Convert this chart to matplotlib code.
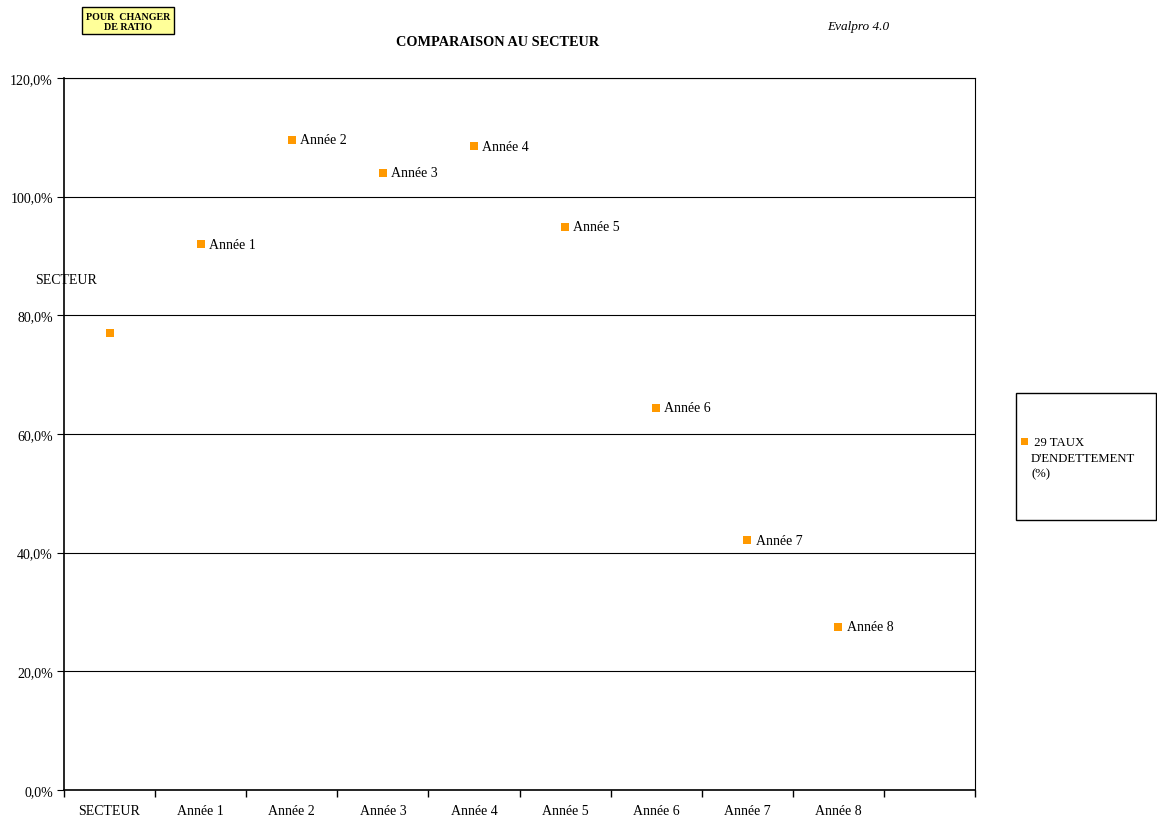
import matplotlib.pyplot as plt
from matplotlib.patches import Rectangle
from matplotlib.ticker import FuncFormatter

plt.rcParams['font.family'] = ['Liberation Serif', 'DejaVu Serif']

categories = ['SECTEUR', 'Année 1', 'Année 2', 'Année 3', 'Année 4',
              'Année 5', 'Année 6', 'Année 7', 'Année 8']
ratios = [77.0, 92.0, 109.6, 104.0, 108.5, 94.9, 64.4, 42.1, 27.5]
series_name = '29 TAUX\nD\'ENDETTEMENT\n(%)'
orange = '#FF9900'

fig = plt.figure(figsize=(11.57, 8.2), dpi=100)
ax = fig.add_axes([64/1157, 29/820, 911/1157, 712/820])

xs = [i + 0.5 for i in range(len(categories))]
ax.scatter(xs, ratios, marker='s', s=30, color=orange, zorder=3, linewidths=0)
for x, y, lab in zip(xs[1:], ratios[1:], categories[1:]):
    ax.annotate(lab, (x, y), xytext=(6, 0), textcoords='offset points',
                va='center', ha='left', fontsize=10)

ax.set_xlim(0, 10)
ax.set_ylim(0, 120)
ax.set_yticks(range(0, 121, 20))
ax.yaxis.set_major_formatter(FuncFormatter(lambda v, p: f'{v:.1f}%'.replace('.', ',')))
ax.set_xticks(range(0, 11))
ax.set_xticklabels([])
ax.set_xticks(xs, minor=True)
ax.set_xticklabels(categories, minor=True)
ax.tick_params(axis='x', which='minor', length=0, pad=10, labelsize=10)
ax.tick_params(axis='x', which='major', length=5, direction='out', width=1)
ax.tick_params(axis='y', length=5, direction='out', labelsize=10, pad=3)
ax.grid(axis='y', color='black', linewidth=0.8)
ax.set_axisbelow(True)
for s in ax.spines.values():
    s.set_linewidth(0.8)
ax.spines['left'].set_linewidth(1.2)
ax.spines['bottom'].set_linewidth(1.2)

fig.text(498/1157, 1 - 42/820, 'COMPARAISON AU SECTEUR', ha='center', va='center',
         fontsize=10.3, fontweight='bold')
fig.text(858/1157, 1 - 27/820, 'Evalpro 4.0', ha='center', va='center',
         fontsize=9.5, style='italic')
fig.text(66/1157, 1 - 281/820, 'SECTEUR', ha='center', va='center', fontsize=10)

# yellow button
fig.patches.append(Rectangle((82/1157, 1 - 35/820), 92/1157, 27/820,
                             transform=fig.transFigure, facecolor='#FFFF99',
                             edgecolor='black', linewidth=1))
fig.text(128/1157, 1 - 22.5/820, 'POUR  CHANGER\nDE RATIO', ha='center', va='center',
         fontsize=7.2, fontweight='bold', linespacing=1.25)

# legend box
fig.patches.append(Rectangle((1016/1157, 1 - 521/820), 140/1157, 127/820,
                             transform=fig.transFigure, facecolor='white',
                             edgecolor='black', linewidth=1))
fig.patches.append(Rectangle((1021/1157, 1 - 446/820), 7/1157, 7/820,
                             transform=fig.transFigure, facecolor=orange,
                             edgecolor='none'))
fig.text(1031/1157, 1 - 437/820, ' ' + series_name, ha='left', va='top',
         fontsize=9.2, linespacing=1.4)

fig.savefig('out.png', dpi=100)
